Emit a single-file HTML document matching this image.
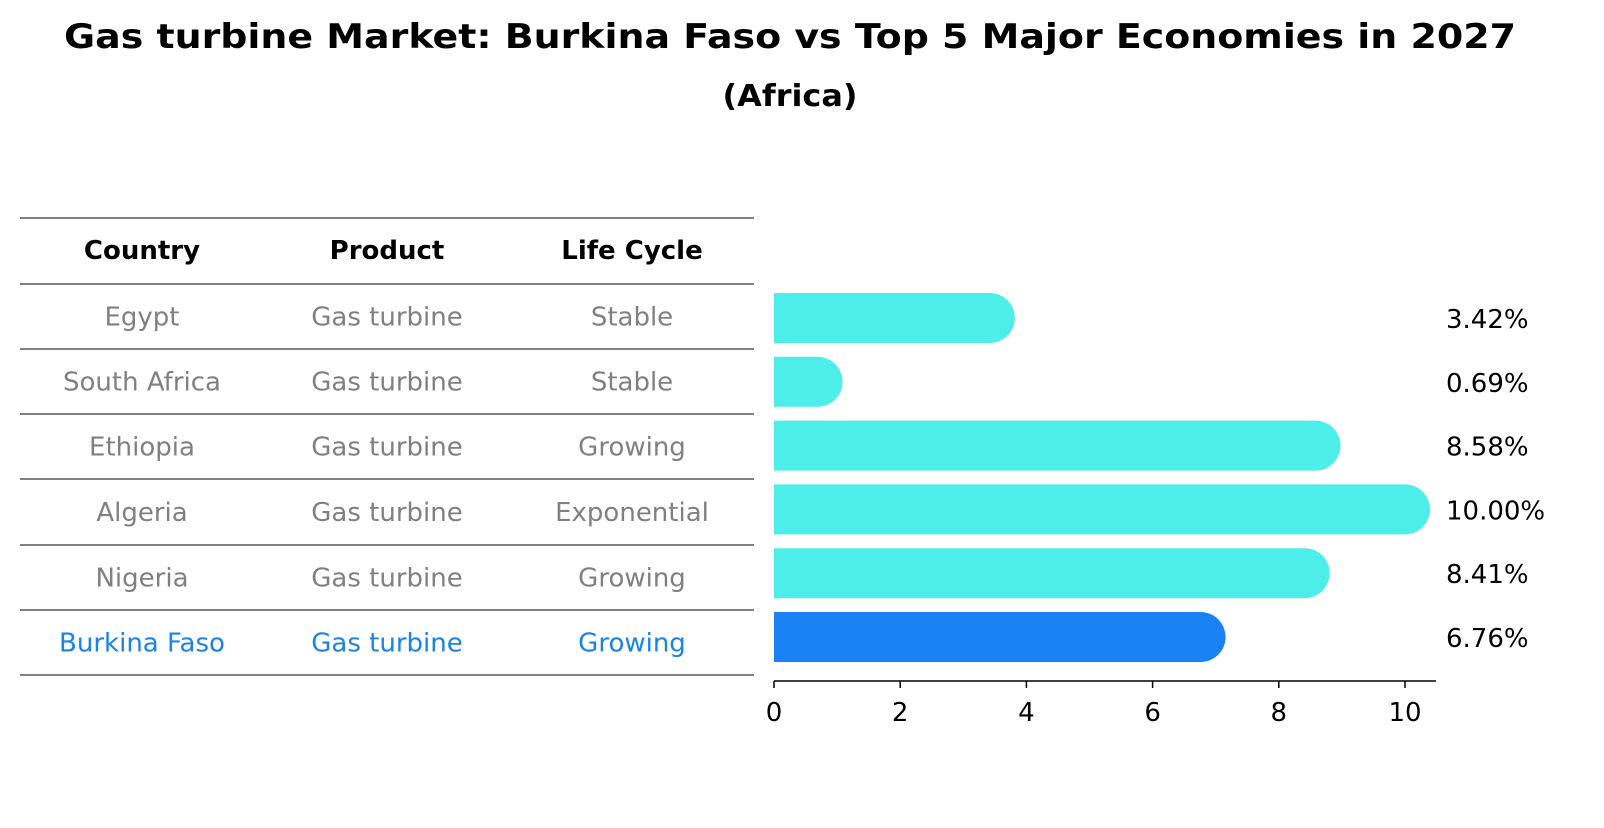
<!DOCTYPE html>
<html><head><meta charset="utf-8"><style>
body{margin:0;background:#fff;font-family:"Liberation Sans","DejaVu Sans",sans-serif}
</style></head><body>
<svg id="c" width="1604" height="823" viewBox="0 0 1604 823" xmlns="http://www.w3.org/2000/svg" font-family="DejaVu Sans, Liberation Sans, sans-serif">
<text x="790" y="48" text-anchor="middle" font-size="34" font-weight="bold" textLength="1452" lengthAdjust="spacingAndGlyphs">Gas turbine Market: Burkina Faso vs Top 5 Major Economies in 2027</text>
<text x="790" y="106" text-anchor="middle" font-size="30" font-weight="bold" textLength="135" lengthAdjust="spacingAndGlyphs">(Africa)</text>
<g id="tbl"></g>
<g id="bars"></g>
<g id="axis"></g>
</svg>
<script>
const countries=["Egypt","South Africa","Ethiopia","Algeria","Nigeria","Burkina Faso"];
const products=["Gas turbine","Gas turbine","Gas turbine","Gas turbine","Gas turbine","Gas turbine"];
const cycles=["Stable","Stable","Growing","Exponential","Growing","Growing"];
const values=[3.42,0.69,8.58,10.00,8.41,6.76];
const ticks=[0,2,4,6,8,10];
const NS="http://www.w3.org/2000/svg";
function mk(t,a,p){const e=document.createElementNS(NS,t);for(const k in a)e.setAttribute(k,a[k]);p.appendChild(e);return e;}
const x0=774,sc=63.1,r=25;
const xs=v=>x0+v*sc;
const rowY=i=>318+i*63.8;
const tbl=document.getElementById('tbl'),bars=document.getElementById('bars'),ax=document.getElementById('axis');
const lines=[218,284,349,414,479,545,610,675];
lines.forEach(y=>{const l=mk('line',{x1:20,x2:754,y1:y,y2:y,stroke:'#000','stroke-width':1},tbl);

});
const cx=[142,387,632];
["Country","Product","Life Cycle"].forEach((h,j)=>{const t=mk('text',{x:cx[j],y:259,'text-anchor':'middle','font-size':26,'font-weight':'bold'},tbl);t.textContent=h;

});
countries.forEach((c,i)=>{const col=i===countries.length-1?'#1a82e8':'#808080';
[c,products[i],cycles[i]].forEach((s,j)=>{const t=mk('text',{x:cx[j],y:(lines[i+1]+lines[i+2])/2+9,'text-anchor':'middle','font-size':26,fill:col},tbl);t.textContent=s;

});
const y=rowY(i),h=50,x1=xs(values[i]);
const p=mk('path',{d:`M${x0},${y-h/2} H${x1} A${r},${r} 0 0 1 ${x1},${y+h/2} H${x0} Z`,fill:i===countries.length-1?'#1a82f5':'#4deee9'},bars);


const t=mk('text',{x:1446,y:y+10,'font-size':26},bars);t.textContent=values[i].toFixed(2)+'%';


});
mk('line',{x1:x0,x2:1436,y1:681,y2:681,stroke:'#000','stroke-width':1.5},ax);
ticks.forEach(v=>{mk('line',{x1:xs(v),x2:xs(v),y1:681,y2:688,stroke:'#000','stroke-width':1.5},ax);
const t=mk('text',{x:xs(v),y:721,'text-anchor':'middle','font-size':26},ax);t.textContent=v;

});
</script>
</body></html>
